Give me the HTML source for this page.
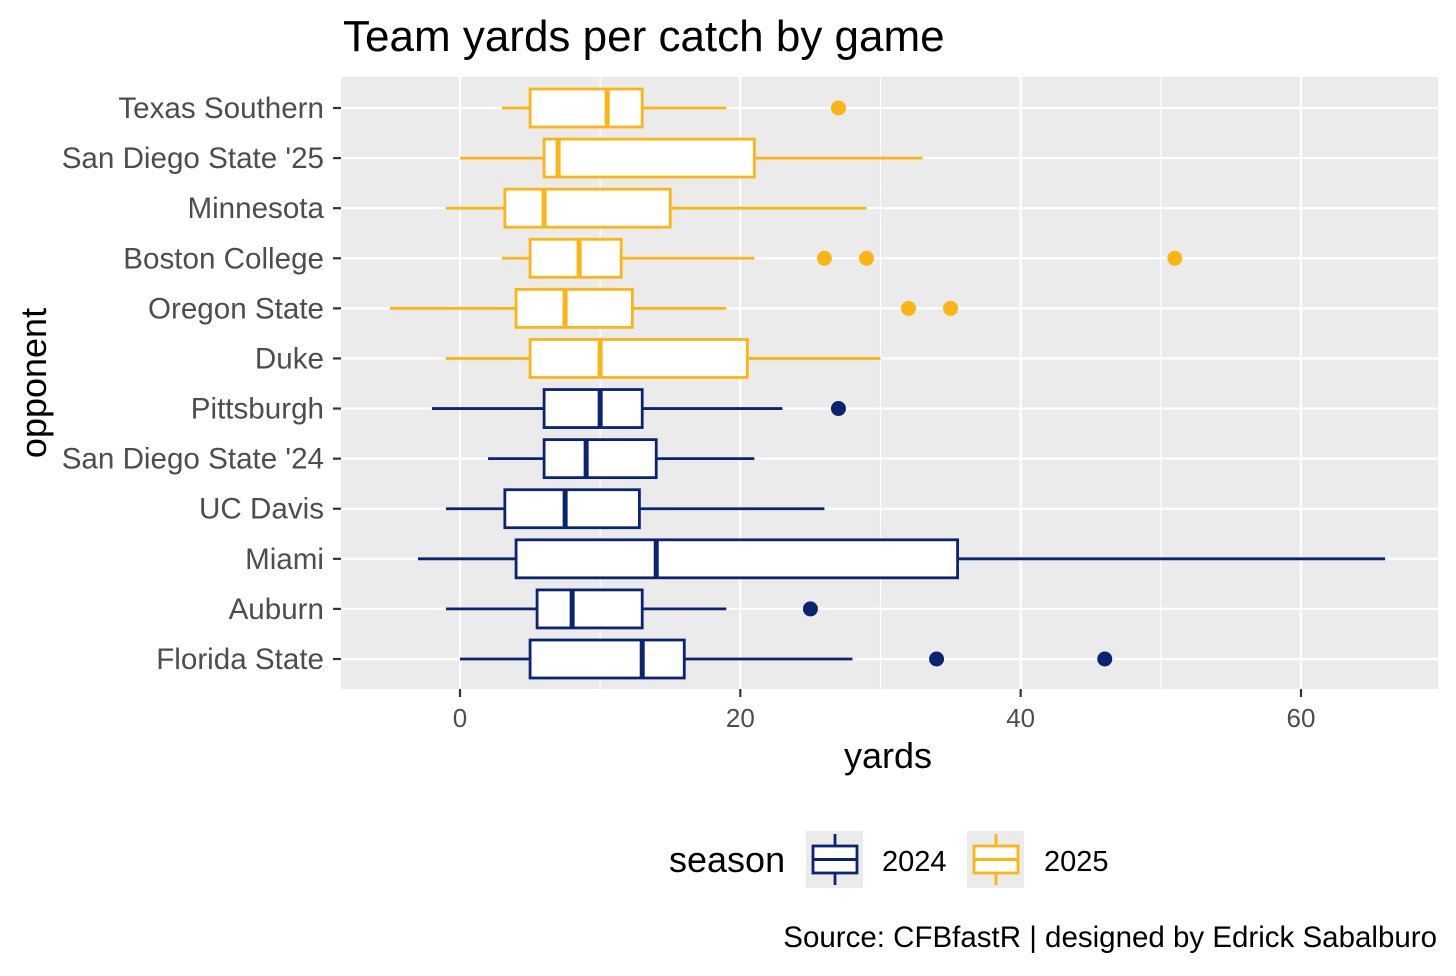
<!DOCTYPE html>
<html><head><meta charset="utf-8"><style>
body{margin:0;background:#fff;font-family:"Liberation Sans",Arial,sans-serif}
svg text{font-family:"Liberation Sans",Arial,sans-serif}
</style></head><body>
<svg id="chart" width="1456" height="971" xmlns="http://www.w3.org/2000/svg">
<text x="343" y="51" font-size="44" fill="#000">Team yards per catch by game</text>
<rect x="341" y="77" width="1097" height="612" fill="#ebebeb"/>
<g id="grid"></g><g id="marks"></g><g id="axes"></g>
<text x="888" y="768" font-size="36" text-anchor="middle" fill="#000">yards</text>
<text transform="translate(46,383) rotate(-90)" font-size="36" text-anchor="middle" fill="#000">opponent</text>
<g>
<text x="669" y="872" font-size="36" fill="#000">season</text>
<g>
<rect x="806" y="831" width="57" height="57" fill="#ebebeb"/>
<line x1="835" y1="834" x2="835" y2="885" stroke="#0a2472" stroke-width="2.8"/>
<rect x="813" y="846" width="44" height="27" fill="#fff" stroke="#0a2472" stroke-width="2.8"/>
<line x1="813" y1="859.5" x2="857" y2="859.5" stroke="#0a2472" stroke-width="3"/>
<text x="882" y="871" font-size="29" fill="#000">2024</text></g>
<g>
<rect x="967" y="831" width="57" height="57" fill="#ebebeb"/>
<line x1="996" y1="834" x2="996" y2="885" stroke="#fcb514" stroke-width="2.8"/>
<rect x="974" y="846" width="44" height="27" fill="#fff" stroke="#fcb514" stroke-width="2.8"/>
<line x1="974" y1="859.5" x2="1018" y2="859.5" stroke="#fcb514" stroke-width="3"/>
<text x="1044" y="871" font-size="29" fill="#000">2025</text></g>
</g>
<text x="1437" y="947" font-size="29.5" text-anchor="end" fill="#000">Source: CFBfastR | designed by Edrick Sabalburo</text>
</svg>
<script>
const opponents=["Texas Southern","San Diego State '25","Minnesota","Boston College","Oregon State","Duke","Pittsburgh","San Diego State '24","UC Davis","Miami","Auburn","Florida State"];
const seasons=[2025,2025,2025,2025,2025,2025,2024,2024,2024,2024,2024,2024];
const whiskerLow=[3,0,-1,3,-5,-1,-2,2,-1,-3,-1,0];
const q1=[5,6,3.2,5,4,5,6,6,3.2,4,5.5,5];
const medians=[10.5,7,6,8.5,7.5,10,10,9,7.5,14,8,13];
const q3=[13,21,15,11.5,12.3,20.5,13,14,12.8,35.5,13,16];
const whiskerHigh=[19,33,29,21,19,30,23,21,26,66,19,28];
const outliers=[[27],[],[],[26,29,51],[32,35],[],[27],[],[],[],[25],[34,46]];
const xTicks=[0,20,40,60];
const NS="http://www.w3.org/2000/svg";
const X=v=>460+v*(1301-460)/60;
const Y=i=>108+i*(659-108)/11;
const col=s=>s===2024?"#0a2472":"#fcb514";
function mk(p,t,a){const e=document.createElementNS(NS,t);for(const k in a)e.setAttribute(k,a[k]);p.appendChild(e);return e;}
const grid=document.getElementById('grid'),marks=document.getElementById('marks'),axes=document.getElementById('axes');
for(let t=-10;t<=70;t+=10){const x=X(t);if(x<341||x>1438)continue;const g=mk(grid,'line',{x1:x,x2:x,y1:77,y2:689,stroke:'#fff','stroke-width':t%20===0?2.2:1.1});

}
opponents.forEach((o,i)=>{const g=mk(grid,'line',{x1:341,x2:1438,y1:Y(i),y2:Y(i),stroke:'#fff','stroke-width':2.2});


const tk=mk(axes,'line',{x1:333,x2:341,y1:Y(i),y2:Y(i),stroke:'#333','stroke-width':2.2});


const tx=mk(axes,'text',{x:324,y:Y(i)+10,'font-size':29.6,'text-anchor':'end',fill:'#4d4d4d'});tx.textContent=o;

});
xTicks.forEach(t=>{const tk=mk(axes,'line',{x1:X(t),x2:X(t),y1:689,y2:697,stroke:'#333','stroke-width':2.2});


const tx=mk(axes,'text',{x:X(t),y:727,'font-size':26,'text-anchor':'middle',fill:'#4d4d4d'});tx.textContent=t;

});
opponents.forEach((o,i)=>{const c=col(seasons[i]),y=Y(i),h=19;
const g=mk(marks,'g',{});


mk(g,'line',{x1:X(whiskerLow[i]),x2:X(q1[i]),y1:y,y2:y,stroke:c,'stroke-width':2.8});
mk(g,'line',{x1:X(q3[i]),x2:X(whiskerHigh[i]),y1:y,y2:y,stroke:c,'stroke-width':2.8});
mk(g,'rect',{x:X(q1[i]),y:y-h,width:X(q3[i])-X(q1[i]),height:2*h,fill:'#fff',stroke:c,'stroke-width':2.8});
mk(g,'line',{x1:X(medians[i]),x2:X(medians[i]),y1:y-h,y2:y+h,stroke:c,'stroke-width':5});
outliers[i].forEach(v=>{const p=mk(g,'circle',{cx:X(v),cy:y,r:7.5,fill:c});

});});
</script>
</body></html>
